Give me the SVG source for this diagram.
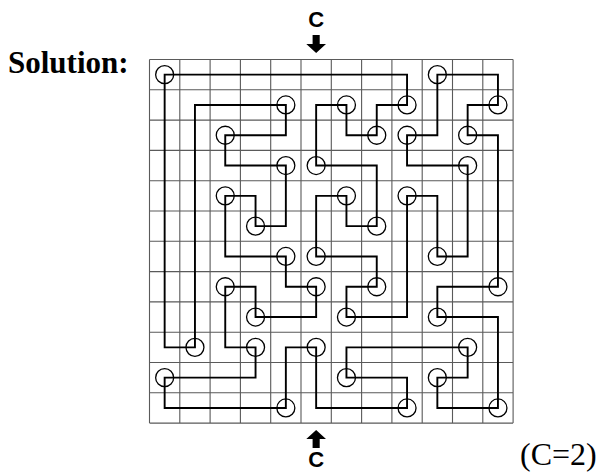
<svg xmlns="http://www.w3.org/2000/svg" width="599" height="473" viewBox="0 0 599 473">
<style>
.grid{stroke:#5a5a5a;stroke-width:1.1;fill:none}
.loop{stroke:#000;stroke-width:1.9;fill:none;stroke-linejoin:miter}
.dot{stroke:#000;stroke-width:1.3;fill:none}
.lbl{font-family:"Liberation Sans",Arial,sans-serif;font-weight:bold;font-size:22px;fill:#000;text-anchor:middle}
.serif{font-family:"Liberation Serif","Times New Roman",serif;fill:#000}
</style>
<rect width="599" height="473" fill="#fff"/>
<text class="serif" x="8" y="73" font-size="31" font-weight="bold">Solution:</text>
<text class="serif" x="520" y="465" font-size="32">(C=2)</text>
<g id="grid">
<path class="grid" d="M149.5,59.5V423.1M179.8,59.5V423.1M210.1,59.5V423.1M240.4,59.5V423.1M270.7,59.5V423.1M301,59.5V423.1M331.3,59.5V423.1M361.6,59.5V423.1M391.9,59.5V423.1M422.2,59.5V423.1M452.5,59.5V423.1M482.8,59.5V423.1M513.1,59.5V423.1M149.5,59.5H513.1M149.5,89.8H513.1M149.5,120.1H513.1M149.5,150.4H513.1M149.5,180.7H513.1M149.5,211H513.1M149.5,241.3H513.1M149.5,271.6H513.1M149.5,301.9H513.1M149.5,332.2H513.1M149.5,362.5H513.1M149.5,392.8H513.1M149.5,423.1H513.1"/>
</g>
<g id="connectors">
<path class="loop" d="M164.65,74.65 H407.05 V104.95 H376.75 V135.25 H346.45 V104.95 H316.15 V165.55 H376.75 V226.15 H346.45 V195.85 H316.15 V256.45 H376.75 V286.75 H346.45 V317.05 H407.05 V195.85 H437.35 V256.45 H467.65 V165.55 H407.05 V135.25 H437.35 V74.65 H497.95 V104.95 H467.65 V135.25 H497.95 V286.75 H437.35 V317.05 H497.95 V407.95 H437.35 V377.65 H467.65 V347.35 H346.45 V377.65 H407.05 V407.95 H316.15 V347.35 H285.85 V407.95 H164.65 V377.65 H255.55 V347.35 H225.25 V286.75 H255.55 V317.05 H316.15 V286.75 H285.85 V256.45 H225.25 V195.85 H255.55 V226.15 H285.85 V165.55 H225.25 V135.25 H285.85 V104.95 H194.95 V347.35 H164.65 Z"/>
</g>
<g id="circles">
<circle id="n0_0" class="dot" cx="164.65" cy="74.65" r="9"/>
<circle id="n9_0" class="dot" cx="437.35" cy="74.65" r="9"/>
<circle id="n4_1" class="dot" cx="285.85" cy="104.95" r="9"/>
<circle id="n6_1" class="dot" cx="346.45" cy="104.95" r="9"/>
<circle id="n8_1" class="dot" cx="407.05" cy="104.95" r="9"/>
<circle id="n11_1" class="dot" cx="497.95" cy="104.95" r="9"/>
<circle id="n2_2" class="dot" cx="225.25" cy="135.25" r="9"/>
<circle id="n7_2" class="dot" cx="376.75" cy="135.25" r="9"/>
<circle id="n8_2" class="dot" cx="407.05" cy="135.25" r="9"/>
<circle id="n10_2" class="dot" cx="467.65" cy="135.25" r="9"/>
<circle id="n4_3" class="dot" cx="285.85" cy="165.55" r="9"/>
<circle id="n5_3" class="dot" cx="316.15" cy="165.55" r="9"/>
<circle id="n10_3" class="dot" cx="467.65" cy="165.55" r="9"/>
<circle id="n2_4" class="dot" cx="225.25" cy="195.85" r="9"/>
<circle id="n6_4" class="dot" cx="346.45" cy="195.85" r="9"/>
<circle id="n8_4" class="dot" cx="407.05" cy="195.85" r="9"/>
<circle id="n3_5" class="dot" cx="255.55" cy="226.15" r="9"/>
<circle id="n7_5" class="dot" cx="376.75" cy="226.15" r="9"/>
<circle id="n4_6" class="dot" cx="285.85" cy="256.45" r="9"/>
<circle id="n5_6" class="dot" cx="316.15" cy="256.45" r="9"/>
<circle id="n9_6" class="dot" cx="437.35" cy="256.45" r="9"/>
<circle id="n2_7" class="dot" cx="225.25" cy="286.75" r="9"/>
<circle id="n5_7" class="dot" cx="316.15" cy="286.75" r="9"/>
<circle id="n7_7" class="dot" cx="376.75" cy="286.75" r="9"/>
<circle id="n11_7" class="dot" cx="497.95" cy="286.75" r="9"/>
<circle id="n3_8" class="dot" cx="255.55" cy="317.05" r="9"/>
<circle id="n6_8" class="dot" cx="346.45" cy="317.05" r="9"/>
<circle id="n9_8" class="dot" cx="437.35" cy="317.05" r="9"/>
<circle id="n1_9" class="dot" cx="194.95" cy="347.35" r="9"/>
<circle id="n3_9" class="dot" cx="255.55" cy="347.35" r="9"/>
<circle id="n5_9" class="dot" cx="316.15" cy="347.35" r="9"/>
<circle id="n10_9" class="dot" cx="467.65" cy="347.35" r="9"/>
<circle id="n0_10" class="dot" cx="164.65" cy="377.65" r="9"/>
<circle id="n6_10" class="dot" cx="346.45" cy="377.65" r="9"/>
<circle id="n9_10" class="dot" cx="437.35" cy="377.65" r="9"/>
<circle id="n4_11" class="dot" cx="285.85" cy="407.95" r="9"/>
<circle id="n8_11" class="dot" cx="407.05" cy="407.95" r="9"/>
<circle id="n11_11" class="dot" cx="497.95" cy="407.95" r="9"/>
</g>
<g id="entry-top">
<text class="lbl" x="316.15" y="27">C</text>
<path d="M312.6,35 H319.7 V44 H326 L316.15,53 L306.3,44 H312.6 Z" fill="#000"/>
</g>
<g id="entry-bottom">
<path d="M312.6,448 H319.7 V439 H326 L316.15,430 L306.3,439 H312.6 Z" fill="#000"/>
<text class="lbl" x="316.15" y="467">C</text>
</g>
</svg>
